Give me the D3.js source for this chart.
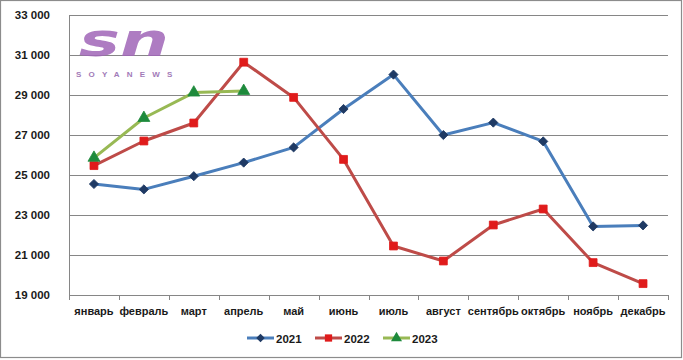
<!DOCTYPE html>
<html><head><meta charset="utf-8">
<script src="https://cdn.jsdelivr.net/npm/d3@7"></script>
<style>body{margin:0;background:#fff}svg{display:block}</style>
</head><body>
<svg id="c" width="683" height="360"></svg>
<script>
const months = ["январь","февраль","март","апрель","май","июнь","июль","август","сентябрь","октябрь","ноябрь","декабрь"];
const s2021 = [24550,24280,24940,25620,26380,28300,30020,27000,27620,26680,22430,22480];
const s2022 = [25470,26700,27600,30640,28880,25780,21450,20700,22500,23300,20620,19570];
const s2023 = [25860,27850,29120,29200];
const yTicks = [19000,21000,23000,25000,27000,29000,31000,33000];
const seriesNames = ["2021","2022","2023"];

const svg = d3.select("#c");
const font = "'Liberation Sans', Arial, sans-serif";
svg.append("rect").attr("x",0.5).attr("y",0.5).attr("width",681).attr("height",357)
  .attr("fill","#fff").attr("stroke","#8c8c8c").attr("stroke-width",1.2);

const x = d3.scaleBand().domain(months).range([69,668]).padding(0);
const y = d3.scaleLinear().domain([19000,33000]).range([295,15]);

svg.append("g").selectAll("line").data(yTicks).join("line")
  .attr("x1",69).attr("x2",668).attr("y1",d=>Math.round(y(d))+0.5).attr("y2",d=>Math.round(y(d))+0.5)
  .attr("stroke","#868686").attr("stroke-width",1);

const fmt = d => d3.format(",")(d).replace(",", " ");
svg.append("g").selectAll("text").data(yTicks).join("text")
  .attr("x",50).attr("y",d=>y(d)+4).attr("text-anchor","end")
  .attr("font-family",font).attr("font-size","11.5px").attr("font-weight","bold").attr("fill","#1a1a1a")
  .text(fmt);

svg.append("line").attr("x1",69.5).attr("x2",69.5).attr("y1",15).attr("y2",295).attr("stroke","#868686");
const xTickPos = months.map(m=>x(m)).concat([x.range()[1]]);
svg.append("g").selectAll("line").data(xTickPos).join("line")
  .attr("x1",d=>Math.round(d)+0.5).attr("x2",d=>Math.round(d)+0.5).attr("y1",295).attr("y2",300)
  .attr("stroke","#868686");

svg.append("g").selectAll("text").data(months).join("text")
  .attr("x",d=>x(d)+x.bandwidth()/2).attr("y",315).attr("text-anchor","middle")
  .attr("font-family",font).attr("font-size","11px").attr("font-weight","bold").attr("fill","#1a1a1a")
  .text(d=>d);

// logo
const logo = svg.append("g");
logo.append("text").attr("x",79).attr("y",56).attr("font-family","'DejaVu Sans', sans-serif")
  .attr("font-style","italic").attr("font-weight","bold").attr("font-size","46px").attr("fill","#a066b8").attr("opacity",0.85)
  .attr("textLength",90).attr("lengthAdjust","spacingAndGlyphs").text("sn");
logo.append("text").attr("x",76).attr("y",77).attr("font-family",font).attr("font-weight","bold")
  .attr("font-size","8px").attr("letter-spacing","7.2px").attr("fill","#a27ab8").text("SOYANEWS");

const cx = d => x(d)+x.bandwidth()/2;
const line = d3.line().x((d,i)=>cx(months[i])).y(d=>y(d));

const styles = [
  {data:s2021, line:"#4a7ebb", mark:"#1f3a64", sym:d3.symbolSquare, size:42, rot:45},
  {data:s2022, line:"#be4b48", mark:"#e01b1b", sym:d3.symbolSquare, size:62, rot:0},
  {data:s2023, line:"#98b954", mark:"#1e8a3c", sym:d3.symbolTriangle, size:62, rot:0}
];
styles.forEach(s=>{
  svg.append("path").attr("d",line(s.data)).attr("fill","none").attr("stroke",s.line).attr("stroke-width",3)
    .attr("stroke-linejoin","round");
});
styles.forEach(s=>{
  svg.append("g").selectAll("path").data(s.data).join("path")
    .attr("transform",(d,i)=>`translate(${cx(months[i])},${y(d)}) rotate(${s.rot})`)
    .attr("d",d3.symbol().type(s.sym).size(s.size)).attr("fill",s.mark)
    .attr("stroke",s.mark).attr("stroke-width",0.8);
});

const legX = [247,315,383];
const lg = svg.append("g");
styles.forEach((s,i)=>{
  const g = lg.append("g").attr("transform",`translate(${legX[i]},338)`);
  g.append("line").attr("x1",0).attr("x2",27).attr("y1",0).attr("y2",0).attr("stroke",s.line).attr("stroke-width",3);
  g.append("path").attr("transform",`translate(13.5,0) rotate(${s.rot})`).attr("d",d3.symbol().type(s.sym).size(s.size*0.85)).attr("fill",s.mark);
  g.append("text").attr("x",29).attr("y",4.5).attr("font-family",font).attr("font-weight","bold")
    .attr("font-size","11.5px").attr("fill","#1a1a1a").text(seriesNames[i]);
});
</script>
</body></html>
